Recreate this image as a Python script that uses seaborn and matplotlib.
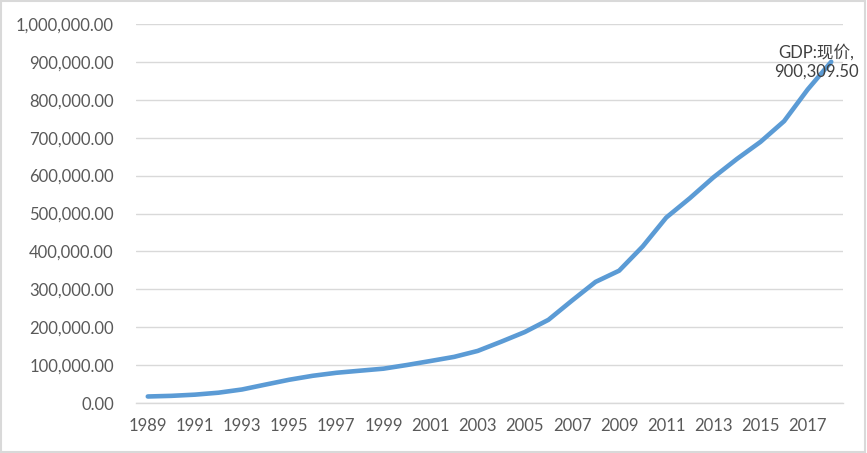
import numpy as np
import pandas as pd
import seaborn as sns
import matplotlib.pyplot as plt
from matplotlib.ticker import FuncFormatter, FixedLocator

years = list(range(1989, 2019))
gdp = [17179.7, 18872.9, 22005.6, 27194.5, 35673.2, 48637.5, 61339.9, 71813.6,
       79715.0, 85195.5, 90564.4, 100280.1, 110863.1, 121717.4, 137422.0,
       161840.2, 187318.9, 219438.5, 270232.3, 319515.5, 349081.4, 413030.3,
       489300.6, 540367.4, 595244.4, 643974.0, 689052.1, 743585.5, 827121.7,
       900309.5]
series_name = "GDP:现价"

df = pd.DataFrame({"idx": np.arange(len(years)), "year": years, "gdp": gdp})

sns.set_style("white")
plt.rcParams['font.family'] = ['Lato', 'Noto Sans CJK SC', 'DejaVu Sans']

fig = plt.figure(figsize=(8.67, 4.53), dpi=100)
ax = fig.add_axes([136 / 867, 1 - 403 / 453, (843 - 136) / 867, (403 - 24) / 453])

sns.lineplot(data=df, x="idx", y="gdp", color="#5B9BD5", linewidth=3.3,
             solid_capstyle="round", ax=ax)

ax.set_xlim(-0.5, len(years) - 0.5)
ax.set_ylim(0, 1000000)
ax.set_yticks(np.arange(0, 1000001, 100000))
ax.yaxis.set_major_formatter(FuncFormatter(lambda v, p: f"{v:,.2f}"))
ax.grid(axis="y", color="#D9D9D9", linewidth=1)
ax.set_axisbelow(True)

# labels every other year, tick marks on category boundaries
ax.set_xticks(df["idx"][::2])
ax.set_xticklabels([str(y) for y in years[::2]])
ax.xaxis.set_minor_locator(FixedLocator(np.arange(-0.5, len(years), 2)))
ax.tick_params(axis="x", which="major", length=0, pad=11, labelsize=12, labelcolor="#595959")
ax.tick_params(axis="x", which="minor", length=4, width=1, color="#D9D9D9", direction="out")
ax.tick_params(axis="y", length=0, pad=16, labelsize=12, labelcolor="#595959")

for s in ["top", "right", "left"]:
    ax.spines[s].set_visible(False)
ax.spines["bottom"].set_color("#D9D9D9")
ax.spines["bottom"].set_linewidth(1)
ax.set_xlabel("")
ax.set_ylabel("")

ax.annotate(f"{series_name},\n{gdp[-1]:,.2f}", xy=(len(years) - 1, gdp[-1]),
            xytext=(-11, 0), textcoords="offset points", ha="center", va="center",
            fontsize=12, color="#404040", linespacing=1.25)

# chart border
fig.patches.append(plt.Rectangle((0.001, 0.002), 0.997, 0.995, transform=fig.transFigure,
                                 fill=False, edgecolor="#D9D9D9", linewidth=1.5))

fig.savefig("out.png", dpi=100)
